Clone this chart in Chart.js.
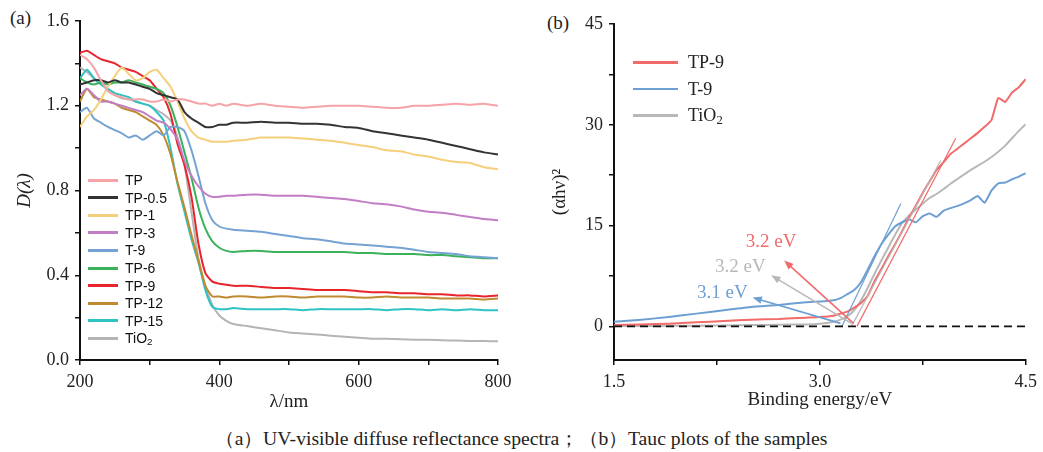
<!DOCTYPE html>
<html>
<head>
<meta charset="utf-8">
<script src="https://cdn.jsdelivr.net/npm/chart.js@4.4.1/dist/chart.umd.min.js"></script>
<style>
  html, body { margin: 0; padding: 0; background: #fff; }
  body { width: 1043px; height: 452px; position: relative; overflow: hidden; font-family: "Liberation Serif", "Times New Roman", serif; color: #222; }
  .box { position: absolute; top: 0; }
  #boxA { left: 0; }
  #boxB { left: 520px; }
  .panel { position: absolute; font-size: 19px; }
  .leg .row { position: absolute; white-space: nowrap; }
  .leg .ln { position: absolute; left: 0; }
  #legA .row { font-family: "Liberation Sans", Arial, sans-serif; font-size: 14px; color: #111; }
  #legB .row { font-size: 18px; color: #222; }
  #caption { position: absolute; left: 215px; top: 428px; font-size: 19px; line-height: 22px; white-space: nowrap; transform-origin: left center; color: #222; }
</style>
</head>
<body>
<div class="panel" style="left:10px;top:7px;">(a)</div>
<div class="panel" style="left:547px;top:12px;">(b)</div>
<div class="box" id="boxA"><canvas id="chartA" width="520" height="420"></canvas></div>
<div class="box" id="boxB"><canvas id="chartB" width="523" height="420"></canvas></div>
<div class="leg" id="legA"></div>
<div class="leg" id="legB"></div>
<div id="caption">（a）UV-visible diffuse reflectance spectra；（b）Tauc plots of the samples</div>

<script>
// ---- (a) UV-vis diffuse reflectance, D(lambda) vs wavelength ----
const wavelength = [200,210,220,230,240,250,260,270,280,290,300,310,320,330,340,350,360,370,380,390,400,410,420,
  440,460,480,500,520,540,560,580,600,620,640,660,680,700,720,740,760,780,800];

const sampleNames = ['TP','TP-0.5','TP-1','TP-3','T-9','TP-6','TP-9','TP-12','TP-15','TiO2'];
const sampleColors = ['#f5a3a6','#333333','#f6cf7c','#c27ec4','#74a2d2','#3bb15c','#e8242c','#c08b30','#2ec3c2','#b4b4b4'];

const dTP    = [1.44,1.42,1.38,1.32,1.27,1.25,1.24,1.23,1.23,1.23,1.22,1.22,1.23,1.22,1.23,1.23,1.22,1.21,1.21,1.20,1.21,1.20,1.21,
  1.20,1.21,1.20,1.195,1.19,1.195,1.20,1.20,1.20,1.195,1.19,1.19,1.20,1.20,1.205,1.21,1.205,1.21,1.20];
const dTP05  = [1.30,1.31,1.32,1.32,1.31,1.32,1.31,1.31,1.30,1.29,1.28,1.26,1.25,1.24,1.23,1.17,1.14,1.12,1.10,1.10,1.11,1.11,1.12,
  1.12,1.125,1.12,1.12,1.115,1.115,1.11,1.10,1.095,1.08,1.07,1.06,1.05,1.04,1.025,1.01,0.995,0.98,0.97];
const dTP1   = [1.10,1.15,1.18,1.23,1.29,1.34,1.38,1.35,1.32,1.33,1.36,1.37,1.33,1.29,1.22,1.14,1.08,1.05,1.04,1.03,1.03,1.03,1.035,
  1.04,1.05,1.05,1.05,1.045,1.04,1.035,1.025,1.015,1.005,0.99,0.985,0.97,0.96,0.945,0.935,0.93,0.91,0.90];
const dTP3   = [1.25,1.28,1.25,1.22,1.22,1.21,1.20,1.19,1.18,1.17,1.15,1.13,1.12,1.09,1.04,0.94,0.87,0.82,0.785,0.77,0.77,0.775,0.775,
  0.78,0.78,0.775,0.775,0.775,0.77,0.765,0.76,0.75,0.74,0.735,0.725,0.71,0.70,0.695,0.685,0.675,0.665,0.66];
const dT9    = [1.17,1.19,1.14,1.12,1.10,1.085,1.07,1.05,1.06,1.04,1.06,1.08,1.06,1.10,1.10,1.08,0.99,0.87,0.74,0.66,0.63,0.62,0.615,
  0.61,0.605,0.595,0.585,0.575,0.57,0.56,0.55,0.545,0.54,0.535,0.53,0.52,0.51,0.505,0.50,0.49,0.485,0.48];
const dTP6   = [1.33,1.31,1.30,1.31,1.30,1.31,1.31,1.32,1.31,1.30,1.29,1.28,1.26,1.20,1.10,0.98,0.86,0.72,0.62,0.56,0.53,0.515,0.51,
  0.515,0.515,0.51,0.51,0.51,0.51,0.51,0.51,0.505,0.505,0.50,0.50,0.50,0.495,0.495,0.49,0.485,0.48,0.48];
const dTP9   = [1.45,1.46,1.44,1.42,1.41,1.40,1.38,1.37,1.36,1.34,1.32,1.28,1.24,1.16,1.02,0.92,0.77,0.55,0.41,0.37,0.36,0.355,0.35,
  0.35,0.345,0.34,0.34,0.335,0.33,0.33,0.33,0.325,0.32,0.32,0.315,0.315,0.31,0.31,0.305,0.305,0.30,0.305];
const dTP12  = [1.22,1.28,1.24,1.23,1.22,1.21,1.19,1.18,1.17,1.15,1.13,1.11,1.06,0.97,0.84,0.72,0.59,0.47,0.35,0.30,0.30,0.295,0.30,
  0.30,0.295,0.30,0.30,0.295,0.30,0.30,0.30,0.295,0.295,0.30,0.295,0.295,0.295,0.29,0.29,0.29,0.285,0.29];
const dTP15  = [1.33,1.37,1.33,1.30,1.28,1.26,1.25,1.24,1.22,1.21,1.20,1.17,1.13,1.00,0.83,0.70,0.57,0.46,0.33,0.25,0.24,0.24,0.245,
  0.24,0.24,0.24,0.24,0.235,0.24,0.24,0.24,0.24,0.24,0.235,0.24,0.24,0.235,0.24,0.235,0.24,0.235,0.235];
const dTiO2  = [1.38,1.36,1.33,1.31,1.27,1.25,1.235,1.23,1.22,1.21,1.20,1.18,1.16,1.13,1.05,0.92,0.70,0.48,0.35,0.26,0.21,0.185,0.17,
  0.16,0.15,0.14,0.13,0.125,0.12,0.115,0.11,0.105,0.10,0.10,0.098,0.096,0.095,0.093,0.092,0.09,0.09,0.088];
const sampleValues = [dTP,dTP05,dTP1,dTP3,dT9,dTP6,dTP9,dTP12,dTP15,dTiO2];

// ---- (b) Tauc plot ----
const energy = [1.5,1.7,1.9,2.1,2.3,2.5,2.7,2.9,3.0,3.1,3.15,3.2,3.25,3.3,3.35,3.4,3.45,3.5,3.55,3.6,3.65,3.7,3.75,3.8,
  3.85,3.9,3.95,4.0,4.05,4.1,4.15,4.2,4.25,4.3,4.35,4.4,4.45,4.5];
const taucTP9  = [0.2,0.3,0.4,0.6,0.8,1.0,1.1,1.3,1.4,1.6,1.9,2.2,2.8,3.5,4.6,6.8,8.6,10.5,12.3,14.2,16.2,18.0,19.9,21.6,
  23.3,24.4,25.6,26.4,27.2,28.0,28.8,29.7,30.7,34.0,33.4,34.8,35.6,36.8];
const taucT9   = [0.7,1.0,1.4,1.9,2.4,2.9,3.2,3.6,3.7,3.9,4.2,4.8,5.4,6.6,8.5,10.5,12.3,13.7,14.9,15.5,15.9,15.5,16.4,16.8,
  16.3,17.2,17.6,17.9,18.3,18.8,19.4,18.4,20.2,21.3,21.4,21.9,22.3,22.8];
const taucTiO2 = [0.05,0.05,0.1,0.1,0.15,0.2,0.25,0.3,0.4,0.7,1.0,1.5,2.4,3.9,5.8,7.9,9.9,11.8,13.7,15.4,16.5,17.4,18.3,19.1,
  19.7,20.4,21.2,21.9,22.6,23.3,23.9,24.5,25.2,26.0,26.9,28.0,29.1,30.1];
const taucNames  = ['TP-9','T-9','TiO2'];
const taucColors = ['#f26a6a','#6e9fd3','#b8b8b8'];
const taucValues = [taucTP9, taucT9, taucTiO2];

// linear fits (x = energy, y = (ahv)^2), start at the baseline
const fitX = [[3.27,3.99],[3.16,3.59],[3.23,3.88]];
const fitY = [[0,28.0],[0,18.3],[0,24.7]];

// band gap call-outs
const gapLabels = ['3.2 eV','3.1 eV','3.2 eV'];
const gapTail   = [[3.245,0.45],[3.15,0.45],[3.23,0.45]];
const gapHead   = [[2.74,9.8],[2.51,4.3],[2.645,7.6]];
const gapText   = [[2.645,12.5],[2.29,4.9],[2.42,8.8]];

const baselineX = [1.5, 4.5];
const baselineY = [0, 0];

// ---------- helpers ----------
const serif = '"Liberation Serif", "Times New Roman", serif';
const tickFont = { family: serif, size: 18 };
const titleFont = { family: serif, size: 19 };

function pts(xs, ys) { return xs.map((v, i) => ({ x: v, y: ys[i] })); }

function axisBase() {
  return {
    type: 'linear',
    border: { display: true, color: '#111', width: 2 },
    grid: { drawOnChartArea: false, drawTicks: true, tickLength: 5, color: '#111', lineWidth: 1.5 },
    ticks: { color: '#222', font: tickFont, maxRotation: 0, autoSkip: false, padding: 6 },
    title: { display: true, color: '#222', font: titleFont }
  };
}

// ---------- chart (a) ----------
const xa = axisBase();
xa.min = 200; xa.max = 800;
xa.ticks.stepSize = 100;
xa.ticks.callback = v => (v % 200 === 0 ? String(v) : '');
xa.title.text = 'λ/nm';
xa.title.padding = { top: 0, bottom: 7 };
xa.afterFit = s => { s.height = 60; };

const ya = axisBase();
ya.min = 0; ya.max = 1.6;
ya.ticks.stepSize = 0.2;
ya.ticks.callback = v => (Math.round(v * 10) % 4 === 0 ? v.toFixed(1) : '');
ya.title.text = 'D(λ)';
ya.title.font = { family: serif, size: 19, style: 'italic' };
ya.title.padding = { top: 14, bottom: 0 };
ya.afterFit = s => { s.width = 80; };

new Chart(document.getElementById('chartA'), {
  type: 'line',
  data: {
    datasets: sampleNames.map((n, i) => ({
      label: n,
      data: pts(wavelength, sampleValues[i]),
      borderColor: sampleColors[i],
      borderWidth: 2,
      pointRadius: 0,
      tension: 0.2,
      fill: false
    }))
  },
  options: {
    responsive: false,
    animation: false,
    layout: { padding: { left: 0, top: 21, right: 22, bottom: 0 } },
    plugins: { legend: { display: false }, tooltip: { enabled: false } },
    scales: { x: xa, y: ya }
  }
});

// ---------- chart (b) ----------
const arrowPlugin = {
  id: 'gapArrows',
  afterDatasetsDraw(chart) {
    const { ctx, scales: { x, y } } = chart;
    ctx.save();
    for (let i = 0; i < gapLabels.length; i++) {
      const c = taucColors[i];
      const x0 = x.getPixelForValue(gapTail[i][0]), y0 = y.getPixelForValue(gapTail[i][1]);
      const x1 = x.getPixelForValue(gapHead[i][0]), y1 = y.getPixelForValue(gapHead[i][1]);
      const a = Math.atan2(y1 - y0, x1 - x0);
      ctx.strokeStyle = c;
      ctx.fillStyle = c;
      ctx.lineWidth = 1.6;
      ctx.beginPath();
      ctx.moveTo(x0, y0);
      ctx.lineTo(x1 - 6 * Math.cos(a), y1 - 6 * Math.sin(a));
      ctx.stroke();
      ctx.beginPath();
      ctx.moveTo(x1, y1);
      ctx.lineTo(x1 - 10 * Math.cos(a - 0.38), y1 - 10 * Math.sin(a - 0.38));
      ctx.lineTo(x1 - 10 * Math.cos(a + 0.38), y1 - 10 * Math.sin(a + 0.38));
      ctx.closePath();
      ctx.fill();
      ctx.font = '19px ' + serif;
      ctx.textAlign = 'center';
      ctx.textBaseline = 'middle';
      ctx.fillText(gapLabels[i], x.getPixelForValue(gapText[i][0]), y.getPixelForValue(gapText[i][1]));
    }
    ctx.restore();
  }
};

const xb = axisBase();
xb.min = 1.5; xb.max = 4.5;
xb.ticks.stepSize = 0.75;
xb.ticks.callback = (v, i) => (i % 2 === 0 ? v.toFixed(1) : '');
xb.title.text = 'Binding energy/eV';
xb.title.padding = { top: 0, bottom: 9 };
xb.afterFit = s => { s.height = 60; };

const yb = axisBase();
yb.min = -5; yb.max = 45;
yb.afterBuildTicks = s => { s.ticks = [0, 7.5, 15, 22.5, 30, 37.5, 45].map(v => ({ value: v })); };
yb.ticks.callback = v => (v % 15 === 0 ? String(v) : '');
yb.title.text = '(αhν)²';
yb.title.padding = { top: 29, bottom: 0 };
yb.afterFit = s => { s.width = 94; };

const dsB = [];
dsB.push({
  data: pts(baselineX, baselineY), borderColor: '#111', borderWidth: 1.6, borderDash: [8, 5],
  pointRadius: 0, fill: false
});
for (let i = 0; i < 3; i++) {
  dsB.push({
    data: pts(fitX[i], fitY[i]), borderColor: taucColors[i], borderWidth: 1.2,
    pointRadius: 0, fill: false
  });
}
for (let i = 0; i < 3; i++) {
  dsB.push({
    label: taucNames[i], data: pts(energy, taucValues[i]), borderColor: taucColors[i], borderWidth: 2,
    pointRadius: 0, tension: 0.15, fill: false
  });
}

new Chart(document.getElementById('chartB'), {
  type: 'line',
  data: { datasets: dsB },
  options: {
    responsive: false,
    animation: false,
    layout: { padding: { left: 0, top: 24, right: 15, bottom: 0 } },
    plugins: { legend: { display: false }, tooltip: { enabled: false } },
    scales: { x: xb, y: yb }
  },
  plugins: [arrowPlugin]
});

// ---------- legends ----------
function sub2(n) { return n.replace(/O2$/, 'O<sub style="font-size:70%;vertical-align:-0.25em;">2</sub>'); }

const legA = document.getElementById('legA');
sampleNames.forEach((n, i) => {
  const cy = 180 + i * 17.6;
  const row = document.createElement('div');
  row.className = 'row';
  row.style.left = '88px';
  row.style.top = (cy - 9) + 'px';
  row.style.height = '18px';
  row.style.lineHeight = '18px';
  row.innerHTML = '<span class="ln" style="top:7.5px;width:30px;height:3px;background:' + sampleColors[i] +
    '"></span><span style="margin-left:37px">' + sub2(n) + '</span>';
  legA.appendChild(row);
});

const legB = document.getElementById('legB');
taucNames.forEach((n, i) => {
  const cy = 62 + i * 26.5;
  const row = document.createElement('div');
  row.className = 'row';
  row.style.left = '633px';
  row.style.top = (cy - 11) + 'px';
  row.style.height = '22px';
  row.style.lineHeight = '22px';
  row.innerHTML = '<span class="ln" style="top:10px;width:45px;height:2.5px;background:' + taucColors[i] +
    '"></span><span style="margin-left:55px">' + sub2(n) + '</span>';
  legB.appendChild(row);
});

// caption centred under the two panels (from x=215 to x=827)
const cap = document.getElementById('caption');
cap.style.transform = 'scaleX(' + (612 / cap.offsetWidth).toFixed(3) + ')';
</script>
</body>
</html>
